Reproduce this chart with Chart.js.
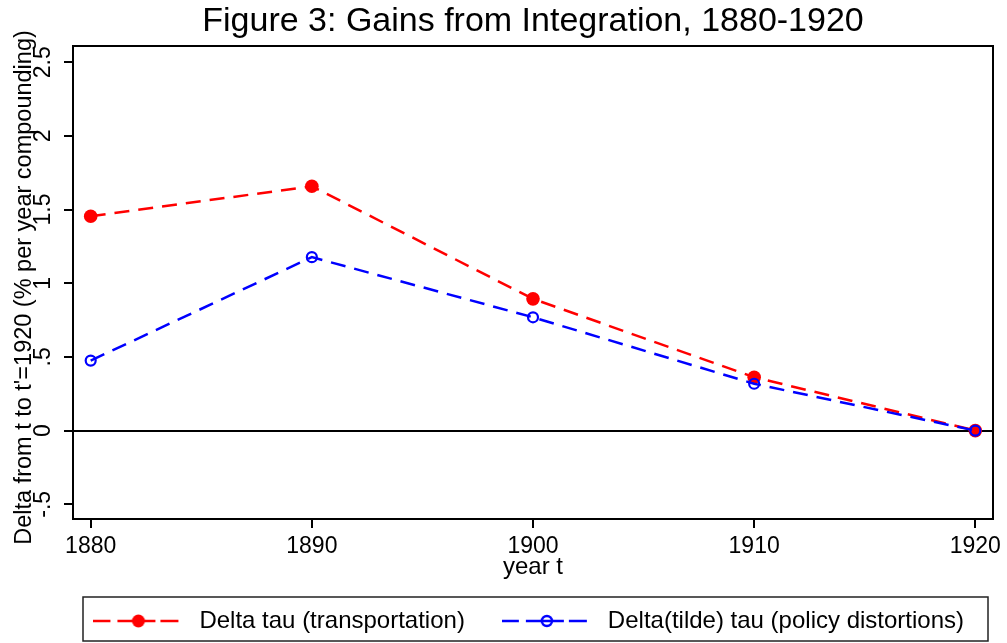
<!DOCTYPE html>
<html>
<head>
    <title>Gains from Integration</title>
    <script src="https://cdn.jsdelivr.net/npm/chart.js"></script>
    <style>
        html, body { margin: 0; padding: 0; background: #fff; }
        #wrap { width: 1007px; height: 643px; position: relative; }
    </style>
</head>
<body>
<div id="wrap">
    <canvas id="gainsChart"></canvas>
</div>

<script>
    // values
    const years = [1880, 1890, 1900, 1910, 1920];
    const transport = [1.455, 1.658, 0.894, 0.362, 0];
    const policy = [0.475, 1.177, 0.769, 0.318, 0];

    const xTicks = [1880, 1890, 1900, 1910, 1920];
    const yTicks = [-0.5, 0, 0.5, 1, 1.5, 2, 2.5];
    const yTickLabels = ['-.5', '0', '.5', '1', '1.5', '2', '2.5'];

    const seriesNames = ['Delta tau (transportation)', 'Delta(tilde) tau (policy distortions)'];
    const yTitle = "Delta from t to t'=1920 (% per year compounding)";
    const red = '#ff0000';
    const blue = '#0000ff';
    const fontFamily = '"Liberation Sans", Arial, sans-serif';

    Chart.defaults.font.family = fontFamily;
    Chart.defaults.color = '#000';

    // little "- -o- -" pictures for the legend
    function legendSymbol(color, filled) {
        const c = document.createElement('canvas');
        c.width = 86;
        c.height = 16;
        const g = c.getContext('2d');
        g.strokeStyle = color;
        g.lineWidth = 2.5;
        [[0, 17], [24, 62], [67, 85]].forEach(s => {
            g.beginPath();
            g.moveTo(s[0], 8);
            g.lineTo(s[1], 8);
            g.stroke();
        });
        g.beginPath();
        if (filled) {
            g.fillStyle = color;
            g.arc(45, 8, 6.5, 0, Math.PI * 2);
            g.fill();
        } else {
            g.fillStyle = '#fff';
            g.arc(45, 8, 5, 0, Math.PI * 2);
            g.fill();
            g.stroke();
            g.beginPath();
            g.moveTo(40, 8);
            g.lineTo(50, 8);
            g.stroke();
        }
        return c;
    }

    // plot frame, legend box and the rotated y title (the scale title gets squeezed to the axis height)
    const frame = {
        id: 'frame',
        beforeDatasetsDraw(chart) {
            const a = chart.chartArea;
            const ctx = chart.ctx;
            ctx.save();
            ctx.strokeStyle = '#000';
            ctx.lineWidth = 2;
            ctx.strokeRect(a.left, a.top, a.right - a.left, a.bottom - a.top);
            ctx.restore();
        },
        afterDraw(chart) {
            const a = chart.chartArea;
            const lg = chart.legend;
            const ctx = chart.ctx;
            ctx.save();
            ctx.strokeStyle = '#222';
            ctx.lineWidth = 1.5;
            ctx.strokeRect(a.left + 10, lg.top + 17, a.right - a.left - 15, lg.bottom - lg.top - 19);

            ctx.translate(25, (a.top + a.bottom) / 2 + 5);
            ctx.rotate(-Math.PI / 2);
            ctx.fillStyle = '#000';
            ctx.font = '23.5px ' + fontFamily;
            ctx.textAlign = 'center';
            ctx.textBaseline = 'middle';
            ctx.fillText(yTitle, 0, 0);
            ctx.restore();
        }
    };

    const ctx = document.getElementById('gainsChart').getContext('2d');
    new Chart(ctx, {
        type: 'line',
        data: {
            datasets: [{
                label: seriesNames[0],
                data: years.map((x, i) => ({ x: x, y: transport[i] })),
                borderColor: red,
                backgroundColor: red,
                borderWidth: 2.5,
                borderDash: [15, 9],
                pointRadius: 6.8,
                pointBorderWidth: 0,
                pointBackgroundColor: red,
                order: 2
            }, {
                label: seriesNames[1],
                data: years.map((x, i) => ({ x: x, y: policy[i] })),
                borderColor: blue,
                backgroundColor: 'transparent',
                borderWidth: 2.5,
                borderDash: [15, 9],
                pointRadius: 5,
                pointBorderWidth: 2.2,
                pointBorderColor: blue,
                pointBackgroundColor: 'transparent',
                order: 1
            }]
        },
        options: {
            responsive: true,
            maintainAspectRatio: false,
            animation: false,
            layout: { padding: { left: 0, right: 14, top: 0, bottom: 0 } },
            plugins: {
                title: {
                    display: true,
                    text: 'Figure 3: Gains from Integration, 1880-1920',
                    fullSize: false,
                    color: '#000',
                    font: { size: 34, weight: 'normal', lineHeight: 1.2 },
                    padding: { top: 1.5, bottom: 3.7 }
                },
                legend: {
                    position: 'bottom',
                    align: 'end',
                    fullSize: true,
                    labels: {
                        color: '#000',
                        font: { size: 24 },
                        padding: 29,
                        usePointStyle: true,
                        pointStyleWidth: 102,
                        generateLabels: function(chart) {
                            return [
                                { text: seriesNames[0], pointStyle: legendSymbol(red, true), fontColor: '#000', datasetIndex: 0, lineWidth: 0 },
                                { text: seriesNames[1], pointStyle: legendSymbol(blue, false), fontColor: '#000', datasetIndex: 1, lineWidth: 0 }
                            ];
                        }
                    }
                },
                tooltip: { enabled: false }
            },
            scales: {
                x: {
                    type: 'linear',
                    min: 1879.2,
                    max: 1920.8,
                    afterBuildTicks: scale => { scale.ticks = xTicks.map(v => ({ value: v })); },
                    afterFit: scale => {
                        scale.height = 61;
                        scale.paddingLeft = 0;
                        scale.paddingRight = 0;
                    },
                    border: { display: false },
                    grid: {
                        drawOnChartArea: false,
                        drawTicks: true,
                        tickLength: 9,
                        tickColor: '#000',
                        lineWidth: 2
                    },
                    ticks: {
                        color: '#000',
                        font: { size: 23, lineHeight: 1 },
                        padding: 7,
                        minRotation: 0,
                        maxRotation: 0,
                        callback: v => String(v)
                    },
                    title: {
                        display: true,
                        text: 'year t',
                        color: '#000',
                        font: { size: 24, lineHeight: 1 },
                        padding: { top: 0, bottom: 1 }
                    }
                },
                y: {
                    type: 'linear',
                    min: -0.6,
                    max: 2.61,
                    afterBuildTicks: scale => { scale.ticks = yTicks.map(v => ({ value: v })); },
                    afterFit: scale => {
                        scale.width = 73;
                        scale.paddingTop = 0;
                        scale.paddingBottom = 0;
                    },
                    border: { display: false },
                    grid: {
                        drawOnChartArea: true,
                        drawTicks: true,
                        tickLength: 9,
                        tickColor: '#000',
                        lineWidth: 2,
                        color: c => (c.tick && c.tick.value === 0 ? '#000' : 'rgba(0,0,0,0)')
                    },
                    ticks: {
                        color: '#000',
                        font: { size: 23, lineHeight: 1.2 },
                        padding: 4,
                        minRotation: 90,
                        maxRotation: 90,
                        crossAlign: 'center',
                        callback: (v, i) => yTickLabels[i]
                    },
                    title: { display: false }
                }
            }
        },
        plugins: [frame]
    });
</script>

</body>
</html>
